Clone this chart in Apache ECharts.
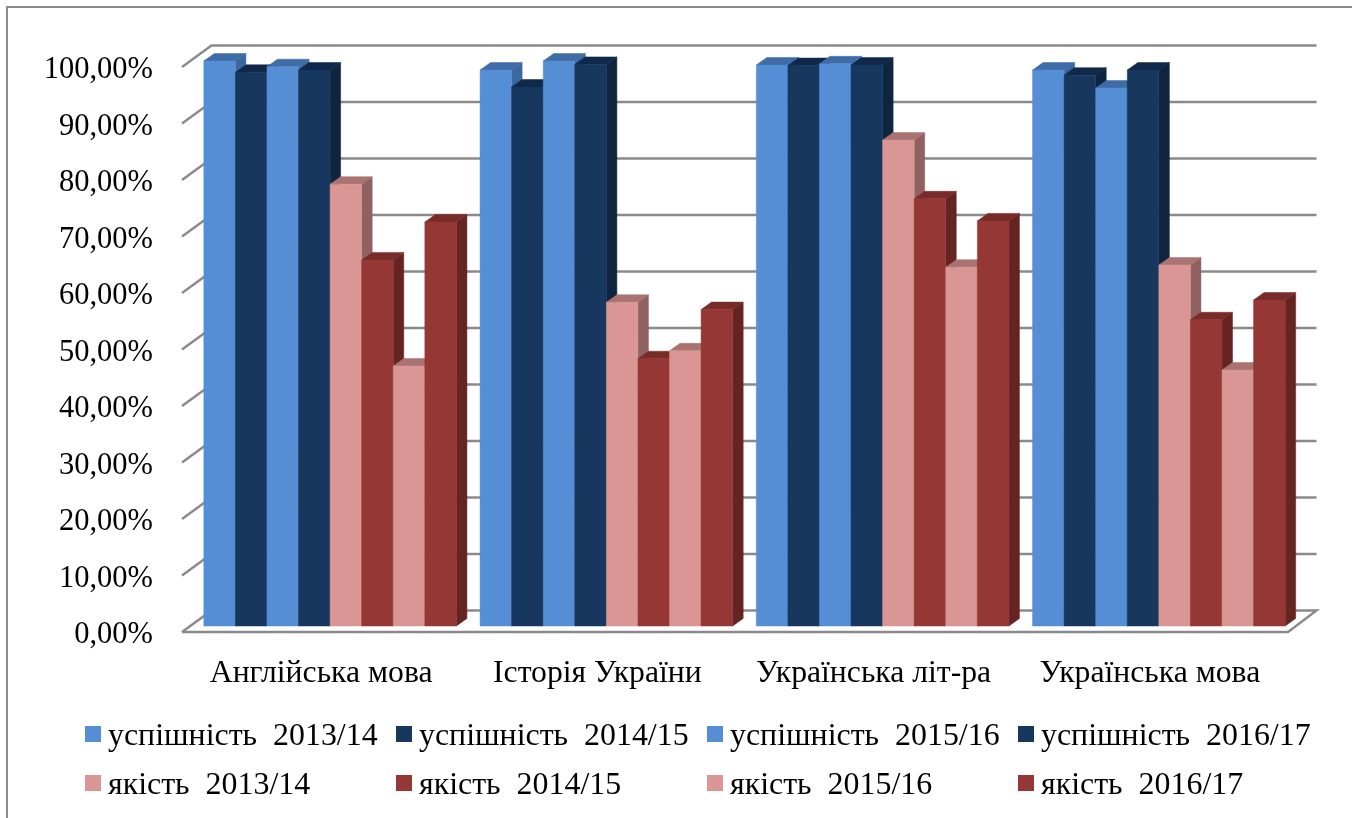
<!DOCTYPE html>
<html><head><meta charset="utf-8">
<style>html,body{margin:0;padding:0;background:#fff}#c{width:1352px;height:818px}</style>
<script src="https://cdn.jsdelivr.net/npm/echarts@6/dist/echarts.min.js"></script></head>
<body><div id="c"></div>
<script>
const categories = ['Англійська мова','Історія України','Українська літ-ра','Українська мова'];
const yTicks = [0,10,20,30,40,50,60,70,80,90,100];
const s1 = [100, 98.4, 99.3, 98.4];
const s2 = [98, 95.4, 99.2, 97.5];
const s3 = [99, 100, 99.5, 95.2];
const s4 = [98.4, 99.4, 99.3, 98.4];
const s5 = [78.2, 57.3, 86, 63.9];
const s6 = [64.8, 47.3, 75.6, 54.2];
const s7 = [46, 48.7, 63.5, 45.3];
const s8 = [71.5, 56, 71.7, 57.7];
const names = ['успішність  2013/14','успішність  2014/15','успішність  2015/16','успішність  2016/17','якість  2013/14','якість  2014/15','якість  2015/16','якість  2016/17'];
const values = [s1,s2,s3,s4,s5,s6,s7,s8];
const palette = [
 {f:'#558ed5',t:'#3f6ca6',s:'#3c689e'},
 {f:'#17375e',t:'#10294a',s:'#0f243e'},
 {f:'#558ed5',t:'#3f6ca6',s:'#3c689e'},
 {f:'#17375e',t:'#10294a',s:'#0f243e'},
 {f:'#d99694',t:'#a97372',s:'#8f6261'},
 {f:'#953735',t:'#772c2a',s:'#652322'},
 {f:'#d99694',t:'#a97372',s:'#8f6261'},
 {f:'#953735',t:'#772c2a',s:'#652322'}
];
const FONT = '"Liberation Serif","Times New Roman",serif';
const GRID = {left:183,top:67,width:1105,height:565};
const WALL = {dx:28.5,dy:-21.5};
const BAR = {ox:9,oy:-6,dx:10.5,dy:-7.5,band:0.1143};

function poly(points,fill){return {type:'polygon',shape:{points},style:{fill,stroke:fill,lineWidth:0.5}};}
function barRender(i){
  return function(params,api){
    const cat=api.value(0), v=api.value(1);
    const top=api.coord([cat,v]), base=api.coord([cat,0]);
    const w=api.size([1,0])[0]*BAR.band;
    const x0=top[0]+BAR.ox+(i-4)*w, x1=x0+w;
    const y0=top[1]+BAR.oy, y1=base[1]+BAR.oy;
    const c=palette[i];
    return {type:'group',silent:true,children:[
      poly([[x1,y0],[x1+BAR.dx,y0+BAR.dy],[x1+BAR.dx,y1+BAR.dy],[x1,y1]],c.s),
      poly([[x0,y0],[x0+BAR.dx,y0+BAR.dy],[x1+BAR.dx,y0+BAR.dy],[x1,y0]],c.t),
      poly([[x0,y0],[x1,y0],[x1,y1],[x0,y1]],c.f)
    ]};
  };
}
function wallRender(params,api){
  const p=api.coord([0,api.value(0)]);
  const cs=params.coordSys;
  const y=p[1], isFloor=api.value(0)===0;
  const pts=[[cs.x-1,y],[cs.x+WALL.dx,y+WALL.dy],[cs.x+cs.width+WALL.dx,y+WALL.dy]];
  if(isFloor){pts.push([cs.x+cs.width,y],[cs.x-1,y]);}
  return {type:'polyline',silent:true,shape:{points:pts},style:{fill:null,stroke:'#8a8a8a',lineWidth:2.4}};
}
const series=[{type:'custom',name:'wall',coordinateSystem:'cartesian2d',data:yTicks.map(t=>[t]),encode:{y:0},renderItem:wallRender,silent:true,clip:false,animation:false,z:1}];
values.forEach((vals,i)=>{
  series.push({type:'custom',name:names[i],coordinateSystem:'cartesian2d',
    data:vals.map((v,k)=>[k,v]),encode:{x:0,y:1},renderItem:barRender(i),clip:false,animation:false,z:2,
    itemStyle:{color:palette[i].f}});
});
const legendCols=[80,391,702,1013];
const legend=legendCols.map((left,k)=>({
  left,top:716,orient:'vertical',itemWidth:16,itemHeight:16,itemGap:17,icon:'rect',selectedMode:false,
  data:[names[k],names[k+4]],
  formatter:n=>'{a|'+n+'}',
  textStyle:{fontFamily:FONT,fontSize:31.9,color:'#000',
    rich:{a:{fontFamily:FONT,fontSize:31.9,color:'#000',padding:[6,0,0,2]}}}
}));
const chart=echarts.init(document.getElementById('c'),null,{renderer:'canvas'});
chart.setOption({
  animation:false,backgroundColor:'#fff',
  grid:{left:GRID.left,top:GRID.top,width:GRID.width,height:GRID.height,containLabel:false},
  xAxis:{type:'category',data:categories,axisLine:{show:false},axisTick:{show:false},splitLine:{show:false},
    axisLabel:{fontFamily:FONT,fontSize:31.7,color:'#000',margin:26,interval:0}},
  yAxis:{type:'value',min:0,max:100,interval:10,axisLine:{show:false},axisTick:{show:false},splitLine:{show:false},
    axisLabel:{fontFamily:FONT,fontSize:30.5,color:'#000',margin:30,
      formatter:v=>'{a|'+v.toFixed(2).replace('.',',')+'%}',
      rich:{a:{fontFamily:FONT,fontSize:30.5,color:'#000',padding:[6,0,0,0]}}}},
  legend,
  graphic:[{type:'rect',silent:true,shape:{x:7,y:7,width:1400,height:900},style:{fill:'none',stroke:'#8a8a8a',lineWidth:2},z:-1}],
  series
});
</script></body></html>
